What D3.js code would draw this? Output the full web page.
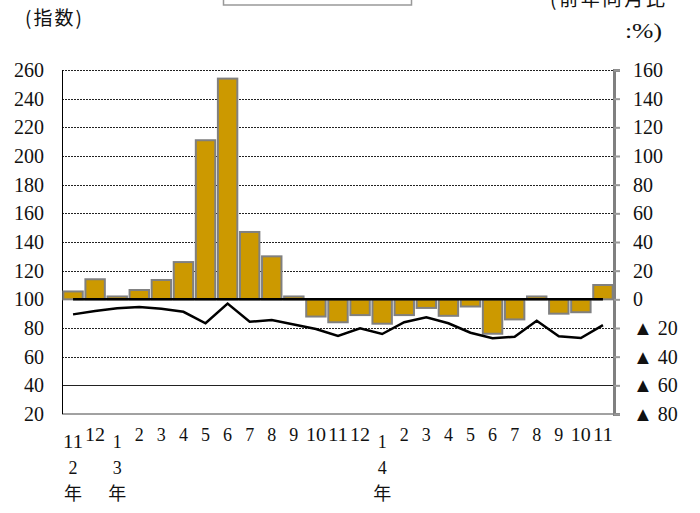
<!DOCTYPE html>
<html>
<head>
<meta charset="utf-8">
<script src="https://cdn.jsdelivr.net/npm/d3@7"></script>
<style>
  body { margin: 0; background: #fff; }
  svg { display: block; }
</style>
</head>
<body>
<div id="chart"></div>
<script>
// months shown on the x axis (R2.11 .. R4.11)
const months = ['11', '12', '1', '2', '3', '4', '5', '6', '7', '8', '9', '10', '11', '12',
    '1', '2', '3', '4', '5', '6', '7', '8', '9', '10', '11'];
// year label under the month where a year starts
const yearLabels = ['2', '', '3', '', '', '', '', '', '', '', '', '', '', '',
    '4', '', '', '', '', '', '', '', '', '', ''];
// bars: year-on-year change (%), right axis
const yoyValues = [5.5, 14, 2, 6.5, 13.5, 26, 111, 154, 47, 30, 2, -12, -16, -11,
    -17, -11, -6, -11.5, -5, -24, -14, 2, -10, -9, 10];
// line: index, left axis
const indexValues = [89.5, 91.8, 93.7, 94.6, 93.4, 91.3, 83.3, 97, 84.4, 85.5, 82.5, 79.3, 74.4, 79.8,
    75.8, 84, 87.4, 83.3, 76.7, 72.8, 73.9, 85, 74.2, 73, 82];
const leftTicks = [20, 40, 60, 80, 100, 120, 140, 160, 180, 200, 220, 240, 260];
const rightTicks = [-80, -60, -40, -20, 0, 20, 40, 60, 80, 100, 120, 140, 160];

const serif = '"Liberation Serif", "Tinos", "Times New Roman", "DejaVu Serif", serif';
const jpFont = '"Noto Sans CJK JP", "Noto Sans CJK SC", sans-serif';

const width = 700;
const height = 513;
const plot = { left: 62, right: 614, top: 70, bottom: 414 };

const svg = d3.select('#chart')
    .append('svg')
    .attr('width', width)
    .attr('height', height);

const x = d3.scaleBand()
    .domain(d3.range(months.length))
    .range([plot.left, plot.right])
    .paddingInner(0.12)
    .paddingOuter(0.06);
const yLeft = d3.scaleLinear().domain([20, 260]).range([plot.bottom, plot.top]);
const yRight = d3.scaleLinear().domain([-80, 160]).range([plot.bottom, plot.top]);
const cx = (i) => x(i) + x.bandwidth() / 2;

// legend box, cut off at the top of the picture
svg.append('rect')
    .attr('x', 223.5).attr('y', -30)
    .attr('width', 188).attr('height', 35)
    .attr('fill', '#fff')
    .attr('stroke', '#999')
    .attr('stroke-width', 1.5);

// grid lines
svg.append('g')
    .selectAll('line')
    .data(leftTicks.filter((t) => t !== 20 && t !== 100))
    .join('line')
    .attr('x1', plot.left).attr('x2', plot.right)
    .attr('y1', (d) => Math.round(yLeft(d)) + 0.5)
    .attr('y2', (d) => Math.round(yLeft(d)) + 0.5)
    .attr('stroke', '#222')
    .attr('stroke-width', 1)
    .attr('stroke-dasharray', (d) => (d === 40 ? null : '2,1'));

// bottom border
svg.append('line')
    .attr('x1', plot.left).attr('x2', plot.right)
    .attr('y1', yLeft(20)).attr('y2', yLeft(20))
    .attr('stroke', '#444')
    .attr('stroke-width', 1);

// left axis line
svg.append('line')
    .attr('x1', plot.left + 0.5).attr('x2', plot.left + 0.5)
    .attr('y1', plot.top).attr('y2', plot.bottom)
    .attr('stroke', '#000')
    .attr('stroke-width', 1);

// bars
svg.append('g')
    .selectAll('rect')
    .data(yoyValues)
    .join('rect')
    .attr('x', (d, i) => x(i))
    .attr('y', (d) => yRight(Math.max(0, d)))
    .attr('width', x.bandwidth())
    .attr('height', (d) => Math.abs(yRight(d) - yRight(0)))
    .attr('fill', '#CC9900')
    .attr('stroke', '#808080')
    .attr('stroke-width', 2);

// zero line
svg.append('line')
    .attr('x1', cx(0)).attr('x2', cx(months.length - 1))
    .attr('y1', yRight(0)).attr('y2', yRight(0))
    .attr('stroke', '#000')
    .attr('stroke-width', 2.5);

// index line
const line = d3.line()
    .x((d, i) => cx(i))
    .y((d) => yLeft(d));
svg.append('path')
    .datum(indexValues)
    .attr('d', line)
    .attr('fill', 'none')
    .attr('stroke', '#000')
    .attr('stroke-width', 2.5);

// right axis
const rightAxis = d3.axisRight(yRight)
    .tickValues(rightTicks)
    .tickSize(6)
    .tickFormat('');
const ra = svg.append('g')
    .attr('transform', `translate(${plot.right},0)`)
    .call(rightAxis);
ra.select('.domain').attr('stroke', '#808080').attr('stroke-width', 3);
ra.selectAll('.tick line').attr('stroke', '#999').attr('stroke-width', 2);

// right tick labels
svg.append('g')
    .selectAll('text')
    .data(rightTicks)
    .join('text')
    .attr('font-family', serif)
    .attr('x', 633)
    .attr('y', (d) => yRight(d) + 7)
    .attr('font-size', 20)
    .attr('fill', '#111')
    .text((d) => (d < 0 ? `▲ ${-d}` : d));

// left tick labels
svg.append('g')
    .selectAll('text')
    .data(leftTicks)
    .join('text')
    .attr('font-family', serif)
    .attr('x', 44)
    .attr('y', (d) => yLeft(d) + 7)
    .attr('text-anchor', 'end')
    .attr('font-size', 20)
    .attr('fill', '#111')
    .text((d) => d);

// month labels
svg.append('g')
    .selectAll('text')
    .data(months)
    .join('text')
    .attr('font-family', serif)
    .attr('x', (d, i) => cx(i))
    .attr('y', (d, i) => (yearLabels[i] ? 448 : 441))
    .attr('text-anchor', 'middle')
    .attr('font-size', 18)
    .attr('fill', '#111')
    .each(function (d) {
        if (d.length > 1) {
            d3.select(this).attr('textLength', 20).attr('lengthAdjust', 'spacingAndGlyphs');
        }
    })
    .text((d) => d);

// year labels
const yearIdx = d3.range(months.length).filter((i) => yearLabels[i]);
svg.append('g')
    .selectAll('text')
    .data(yearIdx)
    .join('text')
    .attr('font-family', serif)
    .attr('x', (i) => cx(i))
    .attr('y', 474)
    .attr('text-anchor', 'middle')
    .attr('font-size', 18)
    .attr('fill', '#111')
    .text((i) => yearLabels[i]);
svg.append('g')
    .selectAll('text')
    .data(yearIdx)
    .join('text')
    .attr('font-family', jpFont)
    .attr('x', (i) => cx(i))
    .attr('y', 500)
    .attr('text-anchor', 'middle')
    .attr('font-size', 18)
    .attr('fill', '#111')
    .text('年');

// axis titles
svg.append('text')
    .attr('font-family', jpFont)
    .attr('x', 25).attr('y', 25)
    .attr('font-size', 19)
    .attr('textLength', 57)
    .attr('lengthAdjust', 'spacing')
    .attr('fill', '#111')
    .text('(指数)');
svg.append('text')
    .attr('font-family', jpFont)
    .attr('x', 550).attr('y', 6)
    .attr('font-size', 19)
    .attr('textLength', 115)
    .attr('lengthAdjust', 'spacing')
    .attr('fill', '#111')
    .text('(前年同月比');
svg.append('text')
    .attr('font-family', serif)
    .attr('x', 625).attr('y', 38)
    .attr('font-size', 20)
    .attr('textLength', 37)
    .attr('lengthAdjust', 'spacingAndGlyphs')
    .attr('fill', '#111')
    .text(':%)');
</script>
</body>
</html>
